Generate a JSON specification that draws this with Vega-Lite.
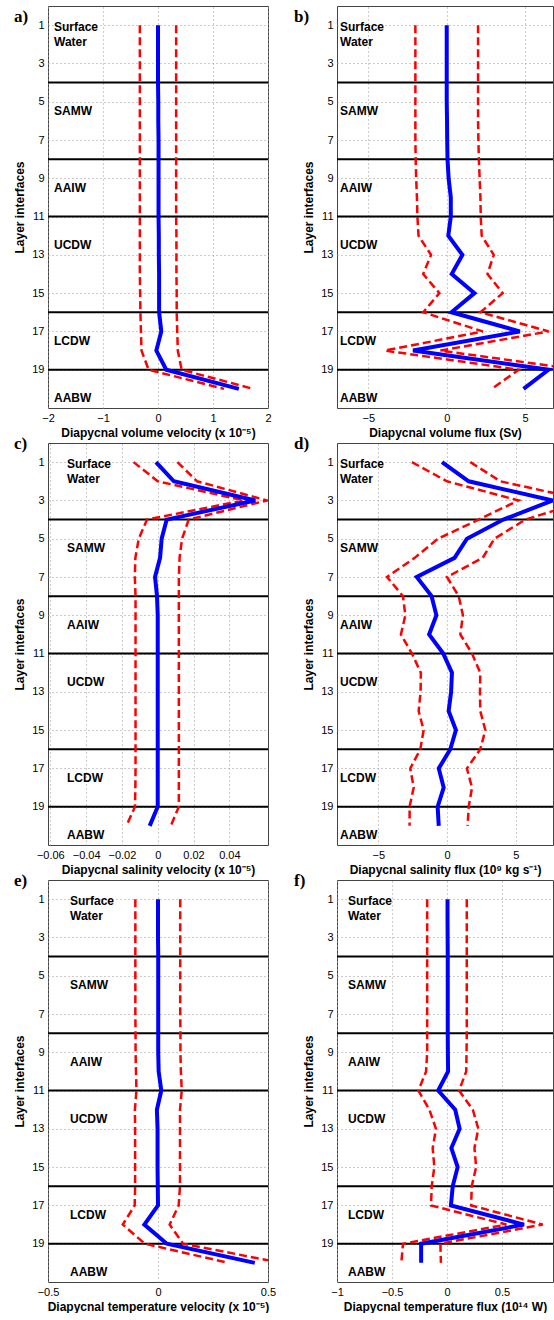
{
  "$schema": "https://vega.github.io/schema/vega-lite/v6.json",
  "padding": {"left": 13, "top": 5, "right": 0, "bottom": 0},
  "config": {
    "font": "Liberation Sans",
    "view": {"stroke": "#444444", "strokeWidth": 1},
    "axis": {
      "domain": false, "ticks": false, "grid": true, "labelFlush": false,
      "gridColor": "#999999", "gridDash": [1, 3], "gridWidth": 1,
      "labelFont": "Liberation Sans", "labelFontSize": 11, "labelColor": "#000000",
      "titleFont": "Liberation Sans", "titleFontSize": 12, "titleFontWeight": "bold", "titleColor": "#000000"
    },
    "axisX": {"labelPadding": 4, "titlePadding": 4},
    "axisY": {"labelPadding": 4, "titlePadding": 5},
    "title": {"font": "Liberation Serif", "fontSize": 17, "fontWeight": "bold", "color": "#000000"}
  },
  "datasets": {
    "interfaces": [{"layer": 4}, {"layer": 8}, {"layer": 11}, {"layer": 16}, {"layer": 19}],
    "masses": [
      {"name": "Surface", "layer": 1.1}, {"name": "Water", "layer": 1.9},
      {"name": "SAMW", "layer": 5.5}, {"name": "AAIW", "layer": 9.5},
      {"name": "UCDW", "layer": 12.5}, {"name": "LCDW", "layer": 17.5},
      {"name": "AABW", "layer": 20.5}
    ],
    "volVel": [
      {"layer": 1, "mean": 0, "lo": -0.33, "hi": 0.33},
      {"layer": 2, "mean": 0, "lo": -0.33, "hi": 0.33},
      {"layer": 3, "mean": 0, "lo": -0.33, "hi": 0.33},
      {"layer": 4, "mean": 0, "lo": -0.33, "hi": 0.33},
      {"layer": 5, "mean": 0.005, "lo": -0.33, "hi": 0.33},
      {"layer": 6, "mean": 0.005, "lo": -0.33, "hi": 0.33},
      {"layer": 7, "mean": 0.01, "lo": -0.33, "hi": 0.33},
      {"layer": 8, "mean": 0.01, "lo": -0.33, "hi": 0.33},
      {"layer": 9, "mean": 0.01, "lo": -0.33, "hi": 0.33},
      {"layer": 10, "mean": 0.01, "lo": -0.33, "hi": 0.33},
      {"layer": 11, "mean": 0.01, "lo": -0.33, "hi": 0.33},
      {"layer": 12, "mean": 0.015, "lo": -0.33, "hi": 0.335},
      {"layer": 13, "mean": 0.015, "lo": -0.33, "hi": 0.335},
      {"layer": 14, "mean": 0.02, "lo": -0.33, "hi": 0.335},
      {"layer": 15, "mean": 0.02, "lo": -0.325, "hi": 0.34},
      {"layer": 16, "mean": 0.02, "lo": -0.32, "hi": 0.34},
      {"layer": 17, "mean": 0.06, "lo": -0.31, "hi": 0.35},
      {"layer": 18, "mean": -0.03, "lo": -0.3, "hi": 0.36},
      {"layer": 19, "mean": 0.15, "lo": -0.17, "hi": 0.43},
      {"layer": 20, "mean": 1.47, "lo": 1.2, "hi": 1.73}
    ],
    "volFlux": [
      {"layer": 1, "mean": 0, "lo": -2.0, "hi": 2.0},
      {"layer": 2, "mean": 0, "lo": -2.0, "hi": 2.0},
      {"layer": 3, "mean": 0, "lo": -2.0, "hi": 2.0},
      {"layer": 4, "mean": 0, "lo": -2.0, "hi": 2.0},
      {"layer": 5, "mean": 0, "lo": -2.0, "hi": 2.0},
      {"layer": 6, "mean": 0.02, "lo": -2.0, "hi": 2.0},
      {"layer": 7, "mean": 0.03, "lo": -2.0, "hi": 2.02},
      {"layer": 8, "mean": 0.05, "lo": -1.98, "hi": 2.05},
      {"layer": 9, "mean": 0.12, "lo": -1.95, "hi": 2.1},
      {"layer": 10, "mean": 0.26, "lo": -1.9, "hi": 2.15},
      {"layer": 11, "mean": 0.26, "lo": -1.87, "hi": 2.17},
      {"layer": 12, "mean": 0.1, "lo": -1.8, "hi": 2.23},
      {"layer": 13, "mean": 1.0, "lo": -1.0, "hi": 3.0},
      {"layer": 14, "mean": 0.32, "lo": -1.5, "hi": 2.6},
      {"layer": 15, "mean": 1.77, "lo": -0.47, "hi": 3.57},
      {"layer": 16, "mean": 0.3, "lo": -1.5, "hi": 2.15},
      {"layer": 17, "mean": 4.66, "lo": 2.3, "hi": 6.5},
      {"layer": 18, "mean": -2.15, "lo": -3.94, "hi": -0.4},
      {"layer": 19, "mean": 6.49, "lo": 4.6, "hi": 8.4},
      {"layer": 20, "mean": 4.9, "lo": 2.87, "hi": 6.9}
    ],
    "saltVel": [
      {"layer": 1, "mean": -0.001, "lo": -0.0135, "hi": 0.011},
      {"layer": 2, "mean": 0.009, "lo": 0.0, "hi": 0.022},
      {"layer": 3, "mean": 0.0545, "lo": 0.048, "hi": 0.061},
      {"layer": 4, "mean": 0.005, "lo": -0.006, "hi": 0.0173},
      {"layer": 5, "mean": 0.0022, "lo": -0.0106, "hi": 0.0136},
      {"layer": 6, "mean": 0.0013, "lo": -0.0125, "hi": 0.0122},
      {"layer": 7, "mean": -0.0015, "lo": -0.0128, "hi": 0.0118},
      {"layer": 8, "mean": -0.0004, "lo": -0.0124, "hi": 0.0118},
      {"layer": 9, "mean": 0, "lo": -0.0124, "hi": 0.0118},
      {"layer": 10, "mean": 0, "lo": -0.0124, "hi": 0.0118},
      {"layer": 11, "mean": 0, "lo": -0.0124, "hi": 0.0118},
      {"layer": 12, "mean": 0, "lo": -0.0124, "hi": 0.0118},
      {"layer": 13, "mean": 0, "lo": -0.0124, "hi": 0.0118},
      {"layer": 14, "mean": 0, "lo": -0.0124, "hi": 0.0118},
      {"layer": 15, "mean": 0, "lo": -0.0124, "hi": 0.0118},
      {"layer": 16, "mean": 0, "lo": -0.0124, "hi": 0.0118},
      {"layer": 17, "mean": 0, "lo": -0.0124, "hi": 0.0118},
      {"layer": 18, "mean": 0, "lo": -0.0125, "hi": 0.0118},
      {"layer": 19, "mean": 0, "lo": -0.0127, "hi": 0.0118},
      {"layer": 20, "mean": -0.0045, "lo": -0.0175, "hi": 0.0073}
    ],
    "saltFlux": [
      {"layer": 1, "mean": -0.36, "lo": -2.55, "hi": 1.7},
      {"layer": 2, "mean": 1.58, "lo": 0.0, "hi": 3.88},
      {"layer": 3, "mean": 7.7, "lo": 5.2, "hi": 10.2},
      {"layer": 4, "mean": 4.1, "lo": 2.3, "hi": 5.7},
      {"layer": 5, "mean": 1.45, "lo": -0.65, "hi": 3.45},
      {"layer": 6, "mean": 0.55, "lo": -2.35, "hi": 2.6},
      {"layer": 7, "mean": -2.2, "lo": -4.36, "hi": 0.0},
      {"layer": 8, "mean": -1.12, "lo": -3.2, "hi": 0.85},
      {"layer": 9, "mean": -0.77, "lo": -3.03, "hi": 1.16},
      {"layer": 10, "mean": -1.3, "lo": -3.35, "hi": 0.97},
      {"layer": 11, "mean": -0.27, "lo": -2.55, "hi": 1.82},
      {"layer": 12, "mean": 0.36, "lo": -1.9, "hi": 2.42},
      {"layer": 13, "mean": 0.3, "lo": -1.92, "hi": 2.4},
      {"layer": 14, "mean": 0.12, "lo": -2.06, "hi": 2.42},
      {"layer": 15, "mean": 0.65, "lo": -1.7, "hi": 2.79},
      {"layer": 16, "mean": 0.24, "lo": -1.94, "hi": 2.42},
      {"layer": 17, "mean": -0.6, "lo": -2.67, "hi": 1.45},
      {"layer": 18, "mean": -0.24, "lo": -2.42, "hi": 1.82},
      {"layer": 19, "mean": -0.68, "lo": -2.72, "hi": 1.58},
      {"layer": 20, "mean": -0.6, "lo": -2.72, "hi": 1.5}
    ],
    "tempVel": [
      {"layer": 1, "mean": 0, "lo": -0.103, "hi": 0.101},
      {"layer": 2, "mean": 0, "lo": -0.103, "hi": 0.101},
      {"layer": 3, "mean": 0, "lo": -0.103, "hi": 0.101},
      {"layer": 4, "mean": 0.001, "lo": -0.103, "hi": 0.101},
      {"layer": 5, "mean": 0.001, "lo": -0.103, "hi": 0.101},
      {"layer": 6, "mean": 0.001, "lo": -0.103, "hi": 0.101},
      {"layer": 7, "mean": 0.001, "lo": -0.103, "hi": 0.101},
      {"layer": 8, "mean": 0.001, "lo": -0.102, "hi": 0.102},
      {"layer": 9, "mean": 0.001, "lo": -0.102, "hi": 0.102},
      {"layer": 10, "mean": 0.003, "lo": -0.1, "hi": 0.104},
      {"layer": 11, "mean": 0.015, "lo": -0.098, "hi": 0.108},
      {"layer": 12, "mean": -0.005, "lo": -0.105, "hi": 0.1},
      {"layer": 13, "mean": -0.002, "lo": -0.104, "hi": 0.1},
      {"layer": 14, "mean": -0.002, "lo": -0.104, "hi": 0.1},
      {"layer": 15, "mean": -0.002, "lo": -0.104, "hi": 0.1},
      {"layer": 16, "mean": -0.001, "lo": -0.104, "hi": 0.1},
      {"layer": 17, "mean": 0, "lo": -0.106, "hi": 0.094},
      {"layer": 18, "mean": -0.062, "lo": -0.16, "hi": 0.053},
      {"layer": 19, "mean": 0.04, "lo": -0.06, "hi": 0.114},
      {"layer": 20, "mean": 0.44, "lo": 0.32, "hi": 0.56}
    ],
    "tempFlux": [
      {"layer": 1, "mean": 0.005, "lo": -0.18, "hi": 0.18},
      {"layer": 2, "mean": 0.005, "lo": -0.18, "hi": 0.18},
      {"layer": 3, "mean": 0.006, "lo": -0.18, "hi": 0.18},
      {"layer": 4, "mean": 0.007, "lo": -0.18, "hi": 0.18},
      {"layer": 5, "mean": 0.007, "lo": -0.18, "hi": 0.18},
      {"layer": 6, "mean": 0.007, "lo": -0.18, "hi": 0.18},
      {"layer": 7, "mean": 0.007, "lo": -0.18, "hi": 0.18},
      {"layer": 8, "mean": 0.007, "lo": -0.18, "hi": 0.18},
      {"layer": 9, "mean": 0.008, "lo": -0.18, "hi": 0.178},
      {"layer": 10, "mean": 0.01, "lo": -0.19, "hi": 0.175},
      {"layer": 11, "mean": -0.08, "lo": -0.26, "hi": 0.11},
      {"layer": 12, "mean": 0.075, "lo": -0.16, "hi": 0.235},
      {"layer": 13, "mean": 0.115, "lo": -0.1, "hi": 0.285},
      {"layer": 14, "mean": 0.04, "lo": -0.13, "hi": 0.25},
      {"layer": 15, "mean": 0.097, "lo": -0.115, "hi": 0.265},
      {"layer": 16, "mean": 0.052, "lo": -0.139, "hi": 0.225},
      {"layer": 17, "mean": 0.036, "lo": -0.145, "hi": 0.22},
      {"layer": 18, "mean": 0.7, "lo": 0.54, "hi": 0.87},
      {"layer": 19, "mean": -0.235, "lo": -0.4, "hi": -0.06},
      {"layer": 20, "mean": -0.235, "lo": -0.415, "hi": -0.055}
    ]
  },
  "columns": 2,
  "spacing": {"row": -5, "column": 16},
  "concat": [
    {
      "width": 220, "height": 402,
      "title": {"text": "a)", "anchor": "start", "frame": "group", "dx": -34, "offset": -20},
      "data": {"name": "volVel"},
      "encoding": {"y": {"field": "layer", "type": "quantitative", "scale": {"domain": [0, 21], "reverse": true, "nice": false, "zero": false}, "axis": {"values": [1, 3, 5, 7, 9, 11, 13, 15, 17, 19], "title": "Layer interfaces"}}},
      "layer": [
        {"data": {"name": "interfaces"}, "mark": {"type": "rule", "color": "#000000", "strokeWidth": 2}},
        {"transform": [{"fold": ["lo", "hi"], "as": ["bound", "value"]}],
         "mark": {"type": "line", "color": "#ff0000", "strokeWidth": 2.5, "strokeDash": [8, 4], "clip": true},
         "encoding": {"x": {"field": "value", "type": "quantitative", "scale": {"domain": [-2, 2], "nice": false, "zero": false}, "axis": {"values": [-2, -1, 0, 1, 2], "format": "d", "title": "Diapycnal volume velocity (x 10⁻⁵)"}}, "detail": {"field": "bound"}, "order": {"field": "layer"}}},
        {"mark": {"type": "line", "color": "#0000ff", "strokeWidth": 4, "clip": true},
         "encoding": {"x": {"field": "mean", "type": "quantitative", "scale": {"domain": [-2, 2], "nice": false, "zero": false}, "axis": {"values": [-2, -1, 0, 1, 2], "format": "d", "title": "Diapycnal volume velocity (x 10⁻⁵)"}}, "order": {"field": "layer"}}},
        {"data": {"name": "masses"}, "mark": {"type": "text", "align": "left", "baseline": "middle", "fontWeight": "bold", "fontSize": 12, "dx": 6, "color": "#000000"},
         "encoding": {"x": {"datum": -2}, "text": {"field": "name"}}}
      ]
    },
    {
      "width": 216, "height": 402,
      "title": {"text": "b)", "anchor": "start", "frame": "group", "dx": -43, "offset": -20},
      "data": {"name": "volFlux"},
      "encoding": {"y": {"field": "layer", "type": "quantitative", "scale": {"domain": [0, 21], "reverse": true, "nice": false, "zero": false}, "axis": {"values": [1, 3, 5, 7, 9, 11, 13, 15, 17, 19], "title": "Layer interfaces"}}},
      "layer": [
        {"data": {"name": "interfaces"}, "mark": {"type": "rule", "color": "#000000", "strokeWidth": 2}},
        {"transform": [{"fold": ["lo", "hi"], "as": ["bound", "value"]}],
         "mark": {"type": "line", "color": "#ff0000", "strokeWidth": 2.5, "strokeDash": [8, 4], "clip": true},
         "encoding": {"x": {"field": "value", "type": "quantitative", "scale": {"domain": [-7, 6.78], "nice": false, "zero": false}, "axis": {"values": [-5, 0, 5], "format": "d", "title": "Diapycnal volume flux (Sv)"}}, "detail": {"field": "bound"}, "order": {"field": "layer"}}},
        {"mark": {"type": "line", "color": "#0000ff", "strokeWidth": 4, "clip": true},
         "encoding": {"x": {"field": "mean", "type": "quantitative", "scale": {"domain": [-7, 6.78], "nice": false, "zero": false}, "axis": {"values": [-5, 0, 5], "format": "d", "title": "Diapycnal volume flux (Sv)"}}, "order": {"field": "layer"}}},
        {"data": {"name": "masses"}, "mark": {"type": "text", "align": "left", "baseline": "middle", "fontWeight": "bold", "fontSize": 12, "dx": 3, "color": "#000000"},
         "encoding": {"x": {"datum": -7}, "text": {"field": "name"}}}
      ]
    },
    {
      "width": 220, "height": 402,
      "title": {"text": "c)", "anchor": "start", "frame": "group", "dx": -34, "offset": -10},
      "data": {"name": "saltVel"},
      "encoding": {"y": {"field": "layer", "type": "quantitative", "scale": {"domain": [0, 21], "reverse": true, "nice": false, "zero": false}, "axis": {"values": [1, 3, 5, 7, 9, 11, 13, 15, 17, 19], "title": "Layer interfaces"}}},
      "layer": [
        {"data": {"name": "interfaces"}, "mark": {"type": "rule", "color": "#000000", "strokeWidth": 2}},
        {"transform": [{"fold": ["lo", "hi"], "as": ["bound", "value"]}],
         "mark": {"type": "line", "color": "#ff0000", "strokeWidth": 2.5, "strokeDash": [8, 4], "clip": true},
         "encoding": {"x": {"field": "value", "type": "quantitative", "scale": {"domain": [-0.0613, 0.0616], "nice": false, "zero": false}, "axis": {"values": [-0.06, -0.04, -0.02, 0, 0.02, 0.04], "format": ".2~f", "title": "Diapycnal salinity velocity (x 10⁻⁵)"}}, "detail": {"field": "bound"}, "order": {"field": "layer"}}},
        {"mark": {"type": "line", "color": "#0000ff", "strokeWidth": 4, "clip": true},
         "encoding": {"x": {"field": "mean", "type": "quantitative", "scale": {"domain": [-0.0613, 0.0616], "nice": false, "zero": false}, "axis": {"values": [-0.06, -0.04, -0.02, 0, 0.02, 0.04], "format": ".2~f", "title": "Diapycnal salinity velocity (x 10⁻⁵)"}}, "order": {"field": "layer"}}},
        {"data": {"name": "masses"}, "mark": {"type": "text", "align": "left", "baseline": "middle", "fontWeight": "bold", "fontSize": 12, "dx": 19, "color": "#000000"},
         "encoding": {"x": {"datum": -0.0613}, "text": {"field": "name"}}}
      ]
    },
    {
      "width": 216, "height": 402,
      "title": {"text": "d)", "anchor": "start", "frame": "group", "dx": -43, "offset": -10},
      "data": {"name": "saltFlux"},
      "encoding": {"y": {"field": "layer", "type": "quantitative", "scale": {"domain": [0, 21], "reverse": true, "nice": false, "zero": false}, "axis": {"values": [1, 3, 5, 7, 9, 11, 13, 15, 17, 19], "title": "Layer interfaces"}}},
      "layer": [
        {"data": {"name": "interfaces"}, "mark": {"type": "rule", "color": "#000000", "strokeWidth": 2}},
        {"transform": [{"fold": ["lo", "hi"], "as": ["bound", "value"]}],
         "mark": {"type": "line", "color": "#ff0000", "strokeWidth": 2.5, "strokeDash": [8, 4], "clip": true},
         "encoding": {"x": {"field": "value", "type": "quantitative", "scale": {"domain": [-8, 7.71], "nice": false, "zero": false}, "axis": {"values": [-5, 0, 5], "format": "d", "title": "Diapycnal salinity flux (10⁹ kg s⁻¹)"}}, "detail": {"field": "bound"}, "order": {"field": "layer"}}},
        {"mark": {"type": "line", "color": "#0000ff", "strokeWidth": 4, "clip": true},
         "encoding": {"x": {"field": "mean", "type": "quantitative", "scale": {"domain": [-8, 7.71], "nice": false, "zero": false}, "axis": {"values": [-5, 0, 5], "format": "d", "title": "Diapycnal salinity flux (10⁹ kg s⁻¹)"}}, "order": {"field": "layer"}}},
        {"data": {"name": "masses"}, "mark": {"type": "text", "align": "left", "baseline": "middle", "fontWeight": "bold", "fontSize": 12, "dx": 3, "color": "#000000"},
         "encoding": {"x": {"datum": -8}, "text": {"field": "name"}}}
      ]
    },
    {
      "width": 220, "height": 402,
      "title": {"text": "e)", "anchor": "start", "frame": "group", "dx": -34, "offset": -10},
      "data": {"name": "tempVel"},
      "encoding": {"y": {"field": "layer", "type": "quantitative", "scale": {"domain": [0, 21], "reverse": true, "nice": false, "zero": false}, "axis": {"values": [1, 3, 5, 7, 9, 11, 13, 15, 17, 19], "title": "Layer interfaces"}}},
      "layer": [
        {"data": {"name": "interfaces"}, "mark": {"type": "rule", "color": "#000000", "strokeWidth": 2}},
        {"transform": [{"fold": ["lo", "hi"], "as": ["bound", "value"]}],
         "mark": {"type": "line", "color": "#ff0000", "strokeWidth": 2.5, "strokeDash": [8, 4], "clip": true},
         "encoding": {"x": {"field": "value", "type": "quantitative", "scale": {"domain": [-0.5, 0.5], "nice": false, "zero": false}, "axis": {"values": [-0.5, 0, 0.5], "format": ".1~f", "title": "Diapycnal temperature velocity (x 10⁻⁵)"}}, "detail": {"field": "bound"}, "order": {"field": "layer"}}},
        {"mark": {"type": "line", "color": "#0000ff", "strokeWidth": 4, "clip": true},
         "encoding": {"x": {"field": "mean", "type": "quantitative", "scale": {"domain": [-0.5, 0.5], "nice": false, "zero": false}, "axis": {"values": [-0.5, 0, 0.5], "format": ".1~f", "title": "Diapycnal temperature velocity (x 10⁻⁵)"}}, "order": {"field": "layer"}}},
        {"data": {"name": "masses"}, "mark": {"type": "text", "align": "left", "baseline": "middle", "fontWeight": "bold", "fontSize": 12, "dx": 22, "color": "#000000"},
         "encoding": {"x": {"datum": -0.5}, "text": {"field": "name"}}}
      ]
    },
    {
      "width": 216, "height": 402,
      "title": {"text": "f)", "anchor": "start", "frame": "group", "dx": -43, "offset": -10},
      "data": {"name": "tempFlux"},
      "encoding": {"y": {"field": "layer", "type": "quantitative", "scale": {"domain": [0, 21], "reverse": true, "nice": false, "zero": false}, "axis": {"values": [1, 3, 5, 7, 9, 11, 13, 15, 17, 19], "title": "Layer interfaces"}}},
      "layer": [
        {"data": {"name": "interfaces"}, "mark": {"type": "rule", "color": "#000000", "strokeWidth": 2}},
        {"transform": [{"fold": ["lo", "hi"], "as": ["bound", "value"]}],
         "mark": {"type": "line", "color": "#ff0000", "strokeWidth": 2.5, "strokeDash": [8, 4], "clip": true},
         "encoding": {"x": {"field": "value", "type": "quantitative", "scale": {"domain": [-1, 0.964], "nice": false, "zero": false}, "axis": {"values": [-1, -0.5, 0, 0.5], "format": ".1~f", "title": "Diapycnal temperature flux (10¹⁴ W)"}}, "detail": {"field": "bound"}, "order": {"field": "layer"}}},
        {"mark": {"type": "line", "color": "#0000ff", "strokeWidth": 4, "clip": true},
         "encoding": {"x": {"field": "mean", "type": "quantitative", "scale": {"domain": [-1, 0.964], "nice": false, "zero": false}, "axis": {"values": [-1, -0.5, 0, 0.5], "format": ".1~f", "title": "Diapycnal temperature flux (10¹⁴ W)"}}, "order": {"field": "layer"}}},
        {"data": {"name": "masses"}, "mark": {"type": "text", "align": "left", "baseline": "middle", "fontWeight": "bold", "fontSize": 12, "dx": 11, "color": "#000000"},
         "encoding": {"x": {"datum": -1}, "text": {"field": "name"}}}
      ]
    }
  ]
}
